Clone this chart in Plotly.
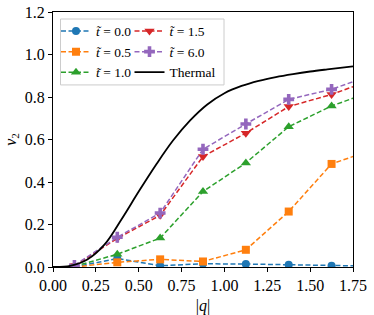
import plotly.graph_objects as go

q_pts = [0.125, 0.375, 0.625, 0.875, 1.125, 1.375, 1.625, 1.875]
v2_t00 = [0.000, 0.040, 0.006, 0.015, 0.014, 0.011, 0.006, 0.004]
v2_t05 = [0.000, 0.022, 0.036, 0.026, 0.081, 0.261, 0.485, 0.555]
v2_t10 = [0.003, 0.060, 0.136, 0.355, 0.490, 0.660, 0.758, 0.830]
v2_t15 = [0.005, 0.135, 0.243, 0.520, 0.630, 0.755, 0.812, 0.885]
v2_t60 = [0.008, 0.140, 0.254, 0.554, 0.673, 0.789, 0.836, 0.908]

q_thermal = [0.0, 0.1, 0.2, 0.3, 0.4, 0.5, 0.6, 0.7, 0.8, 0.9, 1.0, 1.1, 1.2, 1.3, 1.4, 1.5, 1.6, 1.75]
v2_thermal = [0.0, 0.005, 0.035, 0.105, 0.225, 0.355, 0.48, 0.595, 0.69, 0.765, 0.818, 0.852, 0.876, 0.894, 0.908, 0.92, 0.93, 0.944]

x_ticks = [0.0, 0.25, 0.5, 0.75, 1.0, 1.25, 1.5, 1.75]
y_ticks = [0.0, 0.2, 0.4, 0.6, 0.8, 1.0, 1.2]

series = [
    ("<i>t̃</i> = 0.0", v2_t00, "#1f77b4", "circle", 8, "legend"),
    ("<i>t̃</i> = 0.5", v2_t05, "#ff7f0e", "square", 8, "legend"),
    ("<i>t̃</i> = 1.0", v2_t10, "#2ca02c", "triangle-up", 9, "legend"),
    ("<i>t̃</i> = 1.5", v2_t15, "#d62728", "triangle-down", 9, "legend2"),
    ("<i>t̃</i> = 6.0", v2_t60, "#9467bd", "cross", 9, "legend2"),
]

FONT = "Liberation Serif"
fig = go.Figure()
for name, vals, col, sym, sz, lg in series:
    fig.add_trace(go.Scatter(
        x=q_pts, y=vals, mode="lines+markers", name=name, legend=lg,
        line=dict(color=col, width=1.5, dash="5px,2.5px"),
        marker=dict(symbol=sym, size=sz, color=col, line=dict(width=0)),
    ))
fig.add_trace(go.Scatter(
    x=q_thermal, y=v2_thermal, mode="lines", name="Thermal", legend="legend2",
    line=dict(color="black", width=1.8, shape="spline", smoothing=1.0),
))

legend_common = dict(
    font=dict(family=FONT, size=13.5, color="black"),
    bgcolor="rgba(0,0,0,0)", borderwidth=0,
    xanchor="left", yanchor="top", tracegroupgap=0,
    itemwidth=30,
)
fig.update_layout(
    width=374, height=315,
    margin=dict(l=53, r=21, t=12, b=48, autoexpand=False),
    paper_bgcolor="white", plot_bgcolor="white",
    font=dict(family=FONT, size=16, color="black"),
    showlegend=True,
    legend=dict(x=0.01, y=0.985, **legend_common),
    legend2=dict(x=0.255, y=0.985, **legend_common),
    shapes=[dict(type="rect", xref="paper", yref="paper",
                 x0=0.025, x1=0.57, y0=0.714, y1=0.9725,
                 line=dict(color="#cccccc", width=1),
                 fillcolor="rgba(255,255,255,0.8)", layer="below")],
)
fig.update_xaxes(
    range=[0, 1.75], tickvals=x_ticks, ticktext=[f"{t:.2f}" for t in x_ticks],
    ticks="outside", ticklen=4, tickcolor="black", showgrid=False, zeroline=False,
    showline=True, linecolor="black", linewidth=1, mirror=True, automargin=False,
    tickfont=dict(family=FONT, size=16),
    title=dict(text="|<i>q</i>|", font=dict(family=FONT, size=16), standoff=6),
)
fig.update_yaxes(
    range=[0, 1.2], tickvals=y_ticks, ticktext=[f"{t:.1f}" for t in y_ticks],
    ticks="outside", ticklen=4, tickcolor="black", showgrid=False, zeroline=False,
    showline=True, linecolor="black", linewidth=1, mirror=True, automargin=False,
    tickfont=dict(family=FONT, size=16),
    title=dict(text="<i>v</i><sub>2</sub>", font=dict(family=FONT, size=16), standoff=4),
)
fig.write_html("out.html", config={"displayModeBar": False})

with open("out.html", "r", encoding="utf-8") as f:
    html = f.read()
html = html.replace("<head>", "<head><style>html,body{margin:0;padding:0;}</style>", 1)
with open("out.html", "w", encoding="utf-8") as f:
    f.write(html)
